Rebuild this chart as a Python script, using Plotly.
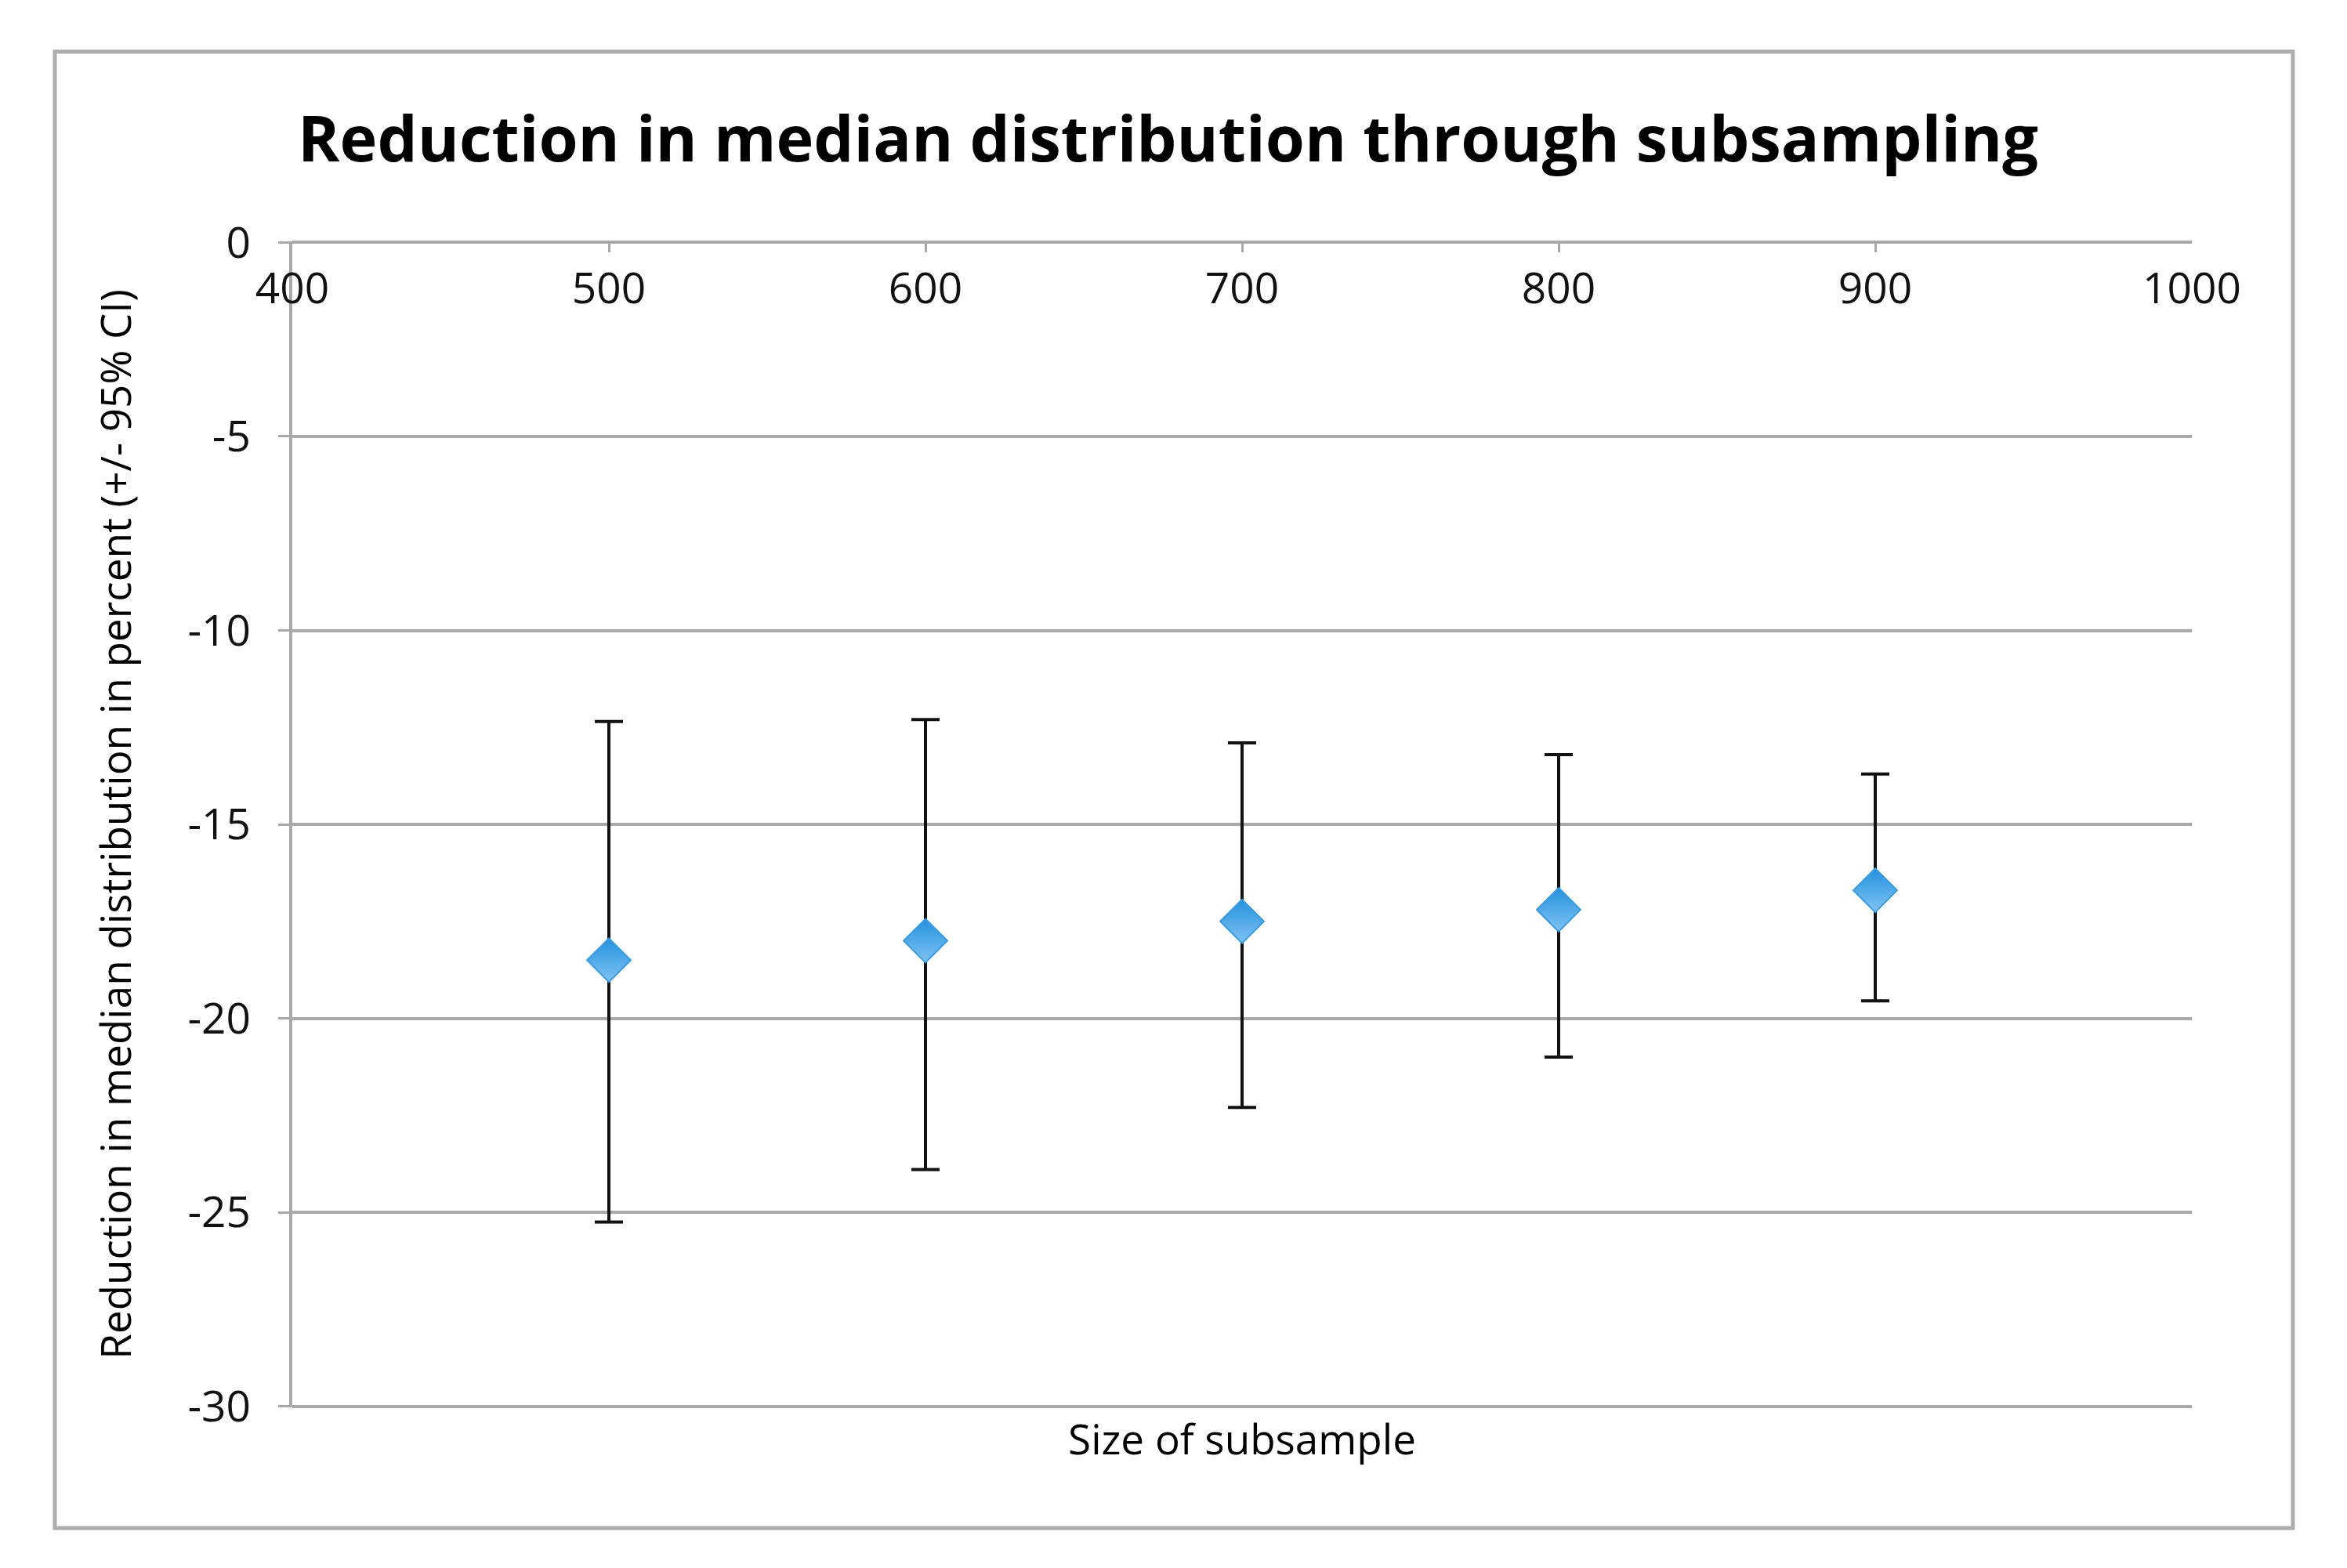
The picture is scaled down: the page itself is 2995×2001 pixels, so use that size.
import plotly.graph_objects as go

# ---- data ----
subsample_size = [500, 600, 700, 800, 900]
median_reduction = [-18.5, -18.0, -17.5, -17.2, -16.7]
ci_upper = [-12.35, -12.3, -12.9, -13.2, -13.7]
ci_lower = [-25.25, -23.9, -22.3, -21.0, -19.55]

x_tick_vals = [400, 500, 600, 700, 800, 900, 1000]
x_tick_text = ["400", "500", "600", "700", "800", "900", "1000"]
y_tick_vals = [0, -5, -10, -15, -20, -25, -30]
y_tick_text = ["0", "-5", "-10", "-15", "-20", "-25", "-30"]

title_text = "Reduction in median distribution through subsampling"
x_title = "Size of subsample"
y_title = "Reduction in median distribution in percent (+/- 95% CI)"

err_plus = [u - m for u, m in zip(ci_upper, median_reduction)]
err_minus = [m - l for m, l in zip(median_reduction, ci_lower)]

FONT = "Open Sans"
GRID = "#a9a9a9"
X_RANGE = [400, 1000]
Y_RANGE = [-30.03, 0.03]

fig = go.Figure()
fig.add_trace(go.Scatter(
    x=subsample_size, y=median_reduction, mode="markers",
    marker=dict(symbol="diamond", size=43, color="#2492df",
                gradient=dict(type="vertical", color="#7fc3f2"),
                line=dict(color="#3a9ae0", width=2)),
    error_y=dict(type="data", symmetric=False, array=err_plus,
                 arrayminus=err_minus, color="#111111", thickness=4, width=18),
    showlegend=False, hoverinfo="x+y", xaxis="x", yaxis="y",
))
# transparent copy so the top (tick) axis is drawn
fig.add_trace(go.Scatter(
    x=subsample_size, y=median_reduction, mode="markers",
    marker=dict(opacity=0), showlegend=False, hoverinfo="skip",
    xaxis="x2", yaxis="y",
))

fig.update_layout(
    width=2995, height=2001, autosize=False,
    paper_bgcolor="white", plot_bgcolor="white",
    margin=dict(l=365, r=206, t=300, b=213, pad=0),
    font=dict(family=FONT, color="black", size=54),
    title=dict(text=title_text, x=0.495, xref="container", xanchor="center",
               y=0.915, yref="container", yanchor="middle",
               font=dict(family=FONT, size=81, weight="bold", color="black")),
    xaxis=dict(range=X_RANGE, side="bottom", anchor="y",
               showticklabels=False, ticks="", showline=False, showgrid=False, zeroline=False,
               title=dict(text=x_title, standoff=22,
                          font=dict(family=FONT, size=53, color="black"))),
    xaxis2=dict(range=X_RANGE, overlaying="x", side="top", anchor="y",
                tickvals=x_tick_vals, ticktext=x_tick_text,
                ticks="inside", ticklen=14, tickwidth=3, tickcolor=GRID,
                ticklabelposition="inside", ticklabelstandoff=34, ticklabeloverflow="allow",
                showline=False, showgrid=False, zeroline=False,
                tickfont=dict(family=FONT, size=55, color="#111")),
    yaxis=dict(range=Y_RANGE, tickvals=y_tick_vals, ticktext=y_tick_text,
               ticks="outside", ticklen=14, tickwidth=3, tickcolor=GRID,
               ticklabelstandoff=24,
               showline=True, linecolor=GRID, linewidth=4,
               showgrid=True, gridcolor=GRID, gridwidth=4, zeroline=False,
               tickfont=dict(family=FONT, size=55, color="#111")),
    shapes=[dict(type="rect", xref="paper", yref="paper",
                 x0=-0.125, x1=1.0532, y0=-0.1035, y1=1.1626,
                 line=dict(color="#adadad", width=5), fillcolor="rgba(0,0,0,0)", layer="below")],
)
fig.update_yaxes(title=dict(text=y_title, standoff=56,
                            font=dict(family=FONT, size=53, color="black")))

fig.write_html("out.html")
